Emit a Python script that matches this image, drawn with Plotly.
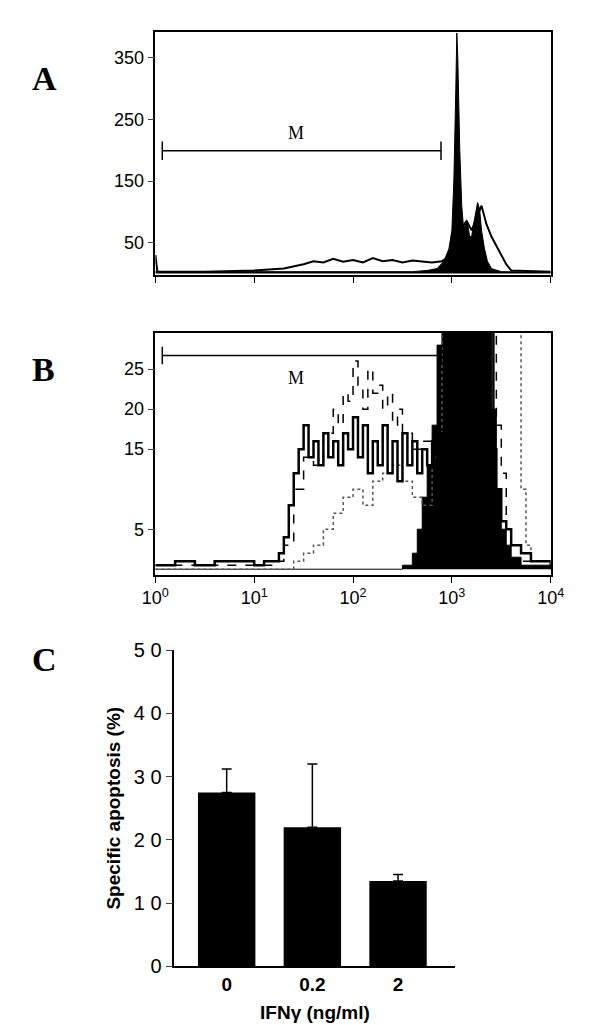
import plotly.graph_objects as go

# Panel A (log10 of fluorescence, counts)
a_fill_logx = [0,2.6,2.75,2.85,2.92,2.97,3.0,3.02,3.04,3.05,3.06,3.08,3.1,3.12,3.14,3.16,3.18,3.2,3.22,3.24,3.26,3.28,3.3,3.33,3.36,3.4,3.5,4]
a_fill_y = [3,3,5,8,20,40,70,150,300,390,350,200,110,70,85,80,60,60,80,100,115,105,70,40,20,8,3,2]
a_line_logx = [0,0.02,0.5,1.0,1.3,1.5,1.6,1.7,1.8,1.9,2.0,2.1,2.2,2.3,2.4,2.5,2.6,2.7,2.8,2.9,2.95,3.0,3.05,3.1,3.15,3.2,3.25,3.3,3.35,3.4,3.45,3.5,3.55,3.6,4]
a_line_y = [30,3,3,5,8,15,20,18,24,19,22,18,25,20,22,18,21,19,18,20,25,40,60,75,85,70,90,110,80,60,45,30,15,5,3]

# Panel B
b_solid_logx = [0,0.2,0.4,0.6,0.8,1.0,1.1,1.2,1.25,1.3,1.35,1.4,1.45,1.5,1.55,1.6,1.65,1.7,1.75,1.8,1.85,1.9,1.95,2.0,2.05,2.1,2.15,2.2,2.25,2.3,2.35,2.4,2.45,2.5,2.55,2.6,2.65,2.7,2.75,2.8,2.85,2.9,2.95,3.0,3.4,3.42,3.45,3.5,3.55,3.6,3.7,3.8,4]
b_solid_y = [0.5,1,0.5,1,1,0.5,1,1,2,4,8,12,15,18,14,16,13,17,14,16,13,17,15,19,14,18,12,16,13,18,12,16,11,17,13,16,12,15,13,16,14,17,22,35,35,15,10,6,5,3,2,1,0]
b_dash_logx = [0,1.2,1.3,1.4,1.5,1.6,1.7,1.8,1.85,1.9,1.95,2.0,2.05,2.1,2.15,2.2,2.25,2.3,2.35,2.4,2.45,2.5,2.6,2.7,2.8,2.9,2.95,3.42,3.45,3.5,3.55,3.6,3.7,4]
b_dash_y = [0.5,1,3,10,14,13,17,20,18,22,21,26,23,20,25,22,23,20,22,18,20,17,15,16,15,16,35,35,18,12,5,3,1,0]
b_dot_logx = [0,1.4,1.5,1.6,1.7,1.8,1.9,2.0,2.1,2.2,2.3,2.4,2.5,2.6,2.7,2.8,2.9,3.65,3.7,3.75,3.8,4]
b_dot_y = [0,1,2,3,5,7,9,10,8,11,12,13,11,9,8,14,35,35,10,3,1,0]
b_fill_logx = [0,2.5,2.6,2.65,2.7,2.75,2.8,2.85,2.9,3.35,3.4,3.45,3.5,3.55,3.6,3.7,4]
b_fill_y = [0,0.5,2,5,9,13,18,28,35,35,20,10,5,3,1.5,0.5,0]

# Panel C
c_labels = ["<b>0</b>", "<b>0.2</b>", "<b>2</b>"]
c_values = [27.5, 22, 13.5]
c_errors = [3.7, 10, 1]
c_ticks = [0, 10, 20, 30, 40, 50]
c_ticktext = ["0", "1 0", "2 0", "3 0", "4 0", "5 0"]

H = 1025
W = 591
def yd(top, bot):
    return [1 - bot / H, 1 - top / H]

fig = go.Figure()
p = lambda l: [10 ** v for v in l]

fig.add_trace(go.Scatter(x=p(a_fill_logx), y=a_fill_y, mode="lines", line=dict(color="black", width=1),
                         fill="tozeroy", fillcolor="black", xaxis="x", yaxis="y"))
fig.add_trace(go.Scatter(x=p(a_line_logx), y=a_line_y, mode="lines", line=dict(color="black", width=2), xaxis="x", yaxis="y"))
fig.add_trace(go.Scatter(x=p([0.07, 0.07, 0.07, 2.89, 2.89, 2.89]), y=[184, 214, 199, 199, 184, 214], mode="lines",
                         line=dict(color="black", width=1.5), xaxis="x", yaxis="y"))

fig.add_trace(go.Scatter(x=p(b_fill_logx), y=b_fill_y, mode="lines", line=dict(color="black", width=1, shape="hv"),
                         fill="tozeroy", fillcolor="black", xaxis="x2", yaxis="y2"))
fig.add_trace(go.Scatter(x=p(b_dot_logx), y=b_dot_y, mode="lines", line=dict(color="#555", width=1.5, dash="dot", shape="hv"), xaxis="x2", yaxis="y2"))
fig.add_trace(go.Scatter(x=p(b_dash_logx), y=b_dash_y, mode="lines", line=dict(color="black", width=1.5, dash="dash", shape="hv"), xaxis="x2", yaxis="y2"))
fig.add_trace(go.Scatter(x=p(b_solid_logx), y=b_solid_y, mode="lines", line=dict(color="black", width=2.5, shape="hv"), xaxis="x2", yaxis="y2"))
fig.add_trace(go.Scatter(x=p([0.07, 0.07, 0.07, 2.89, 2.89, 2.89]), y=[25.6, 27.8, 26.7, 26.7, 25.6, 27.8], mode="lines",
                         line=dict(color="black", width=1.5), xaxis="x2", yaxis="y2"))

fig.add_trace(go.Bar(x=[0, 1, 2], y=c_values, width=0.67, marker=dict(color="black", line=dict(width=0)),
                     error_y=dict(type="data", array=c_errors, arrayminus=[0, 0, 0], color="black", thickness=1.5, width=5),
                     xaxis="x3", yaxis="y3"))

xdom = [140 / W, 555 / W]
logaxis = dict(type="log", range=[0, 4], showgrid=False, zeroline=False, showline=True, linecolor="black", linewidth=1.5,
               mirror=True, ticks="outside", ticklen=6, tickcolor="black", tickvals=[1, 10, 100, 1000, 10000])
fig.update_layout(
    width=W, height=H, margin=dict(l=0, r=0, t=0, b=0), showlegend=False,
    plot_bgcolor="white", paper_bgcolor="white",
    font=dict(family="Arial", color="black", size=15),
    xaxis=dict(logaxis, domain=xdom, anchor="y", showticklabels=False),
    yaxis=dict(domain=yd(13, 262), range=[-3, 392], anchor="x", showgrid=False, zeroline=False, showline=True, linecolor="black",
               linewidth=1.5, mirror=True, ticks="outside", ticklen=6, tickvals=[50, 150, 250, 350], tickfont=dict(size=18)),
    xaxis2=dict(logaxis, domain=xdom, anchor="y2", ticktext=["10<sup>0</sup>", "10<sup>1</sup>", "10<sup>2</sup>", "10<sup>3</sup>", "10<sup>4</sup>"],
                tickfont=dict(size=18)),
    yaxis2=dict(domain=yd(321, 568), range=[-0.7, 29.5], anchor="x2", showgrid=False, zeroline=False, showline=True, linecolor="black",
                linewidth=1.5, mirror=True, ticks="outside", ticklen=6, tickvals=[5, 15, 20, 25], tickfont=dict(size=18)),
    xaxis3=dict(domain=[160 / W, 455 / W], anchor="y3", range=[-0.61, 2.67], showgrid=False, zeroline=False, showline=True,
                linecolor="black", linewidth=1.5, ticks="", tickvals=[0, 1, 2], ticktext=c_labels,
                tickfont=dict(size=19),
                title=dict(text="<b>IFNγ (ng/ml)</b>", font=dict(size=19), standoff=12)),
    yaxis3=dict(domain=yd(645, 968), range=[0, 50], anchor="x3", showgrid=False, zeroline=False, showline=True, linecolor="black",
                linewidth=1.5, ticks="outside", ticklen=7, tickvals=c_ticks, ticktext=c_ticktext, tickfont=dict(size=20),
                title=dict(text="<b>Specific apoptosis (%)</b>", font=dict(size=19), standoff=8)),
    annotations=[
        dict(text="<b>A</b>", x=8 / W, y=1 - 40 / H, xref="paper", yref="paper", xanchor="left", showarrow=False, font=dict(family="Liberation Serif", size=34)),
        dict(text="<b>B</b>", x=8 / W, y=1 - 337 / H, xref="paper", yref="paper", xanchor="left", showarrow=False, font=dict(family="Liberation Serif", size=34)),
        dict(text="<b>C</b>", x=8 / W, y=1 - 655 / H, xref="paper", yref="paper", xanchor="left", showarrow=False, font=dict(family="Liberation Serif", size=34)),
        dict(text="M", x=1.42, y=228, xref="x", yref="y", showarrow=False, font=dict(family="Liberation Serif", size=18)),
        dict(text="M", x=1.42, y=23.9, xref="x2", yref="y2", showarrow=False, font=dict(family="Liberation Serif", size=18)),
    ],
)
fig.write_html("out.html")
